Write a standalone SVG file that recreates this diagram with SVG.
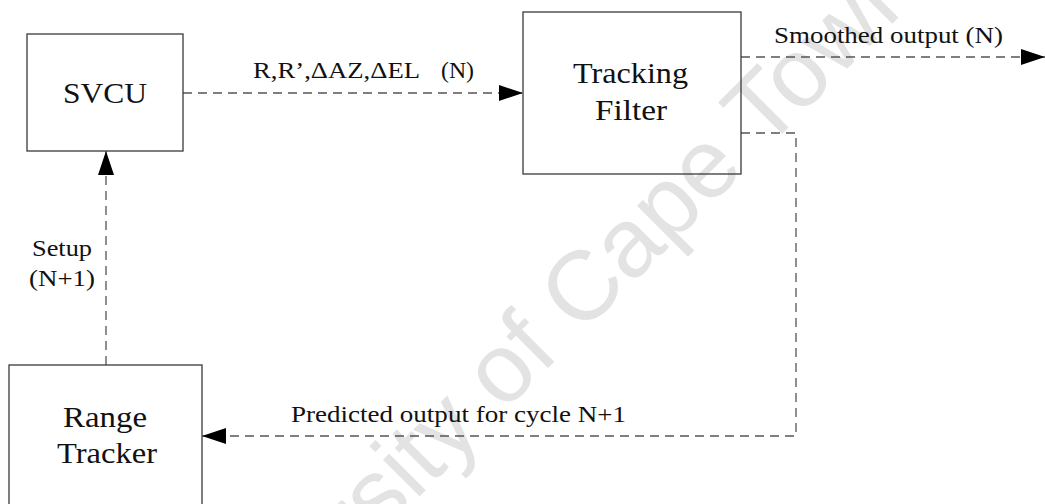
<svg xmlns="http://www.w3.org/2000/svg" width="1045" height="504" viewBox="0 0 1045 504">
<style>
.box{fill:none;stroke:#3a3a3a;stroke-width:1.3}
.big{font-family:'Liberation Serif','DejaVu Serif',serif;font-size:30px;fill:#111}
.lbl{font-family:'Liberation Serif','DejaVu Serif',serif;font-size:23.5px;fill:#111}
.conn{fill:none;stroke:#555;stroke-width:1.3;stroke-dasharray:9 6}
.wm{font-family:'Liberation Sans',Arial,sans-serif;font-size:98px;fill:#e3e3e3}
</style>
<defs>
<marker id="arr" markerUnits="userSpaceOnUse" markerWidth="24" markerHeight="16" refX="24" refY="8" orient="auto">
<path d="M0,0 L24,8 L0,16 z" fill="#000"/>
</marker>
</defs>
<rect width="1045" height="504" fill="#fff"/>
<text class="wm" transform="translate(180,736) rotate(-45)" x="0" y="0">University of Cape Town</text>
<g id="connectors">
<line class="conn" x1="183" y1="93" x2="523" y2="93" marker-end="url(#arr)"/>
<line class="conn" x1="741" y1="57" x2="1045" y2="57" marker-end="url(#arr)"/>
<polyline class="conn" points="741,133 796,133 796,436 202,436" marker-end="url(#arr)"/>
<line class="conn" x1="106" y1="365" x2="106" y2="151" marker-end="url(#arr)"/>
<text class="lbl" x="253" y="78" textLength="167" lengthAdjust="spacingAndGlyphs">R,R’,ΔAZ,ΔEL</text>
<text class="lbl" x="441" y="78" textLength="33" lengthAdjust="spacingAndGlyphs">(N)</text>
<text class="lbl" x="774" y="43" textLength="229" lengthAdjust="spacingAndGlyphs">Smoothed output (N)</text>
<text class="lbl" x="291" y="422" textLength="335" lengthAdjust="spacingAndGlyphs">Predicted output for cycle N+1</text>
<text class="lbl" x="32" y="256" textLength="60" lengthAdjust="spacingAndGlyphs">Setup</text>
<text class="lbl" x="29" y="286" textLength="66" lengthAdjust="spacingAndGlyphs">(N+1)</text>
</g>
<g id="svcu">
<rect class="box" x="27" y="34" width="156" height="117"/>
<text class="big" x="63" y="103" textLength="84" lengthAdjust="spacingAndGlyphs">SVCU</text>
</g>
<g id="tracking-filter">
<rect class="box" x="523" y="12" width="218" height="162"/>
<text class="big" x="573" y="83" textLength="115" lengthAdjust="spacingAndGlyphs">Tracking</text>
<text class="big" x="595" y="120" textLength="72" lengthAdjust="spacingAndGlyphs">Filter</text>
</g>
<g id="range-tracker">
<rect class="box" x="9" y="365" width="193" height="150"/>
<text class="big" x="63" y="427" textLength="84" lengthAdjust="spacingAndGlyphs">Range</text>
<text class="big" x="57" y="463" textLength="100" lengthAdjust="spacingAndGlyphs">Tracker</text>
</g>
</svg>
